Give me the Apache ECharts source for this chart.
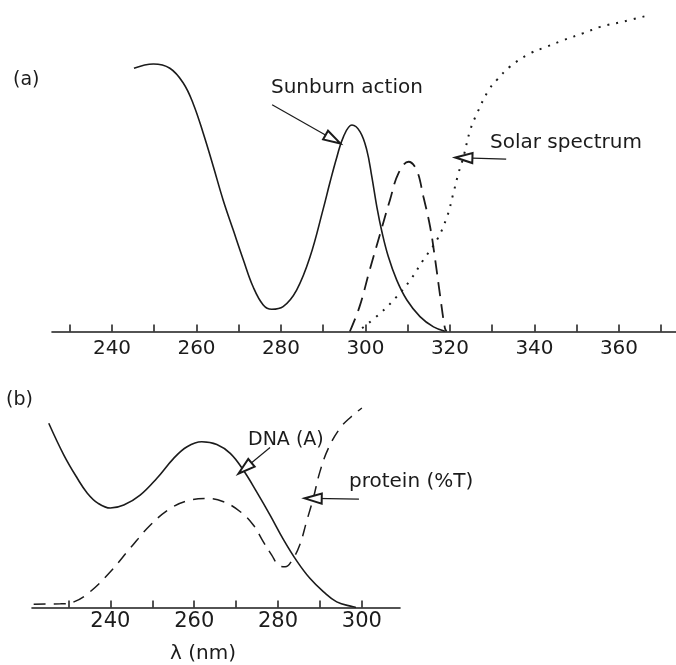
<!DOCTYPE html>
<html><head><meta charset="utf-8">
<script src="https://cdn.jsdelivr.net/npm/echarts@6/dist/echarts.min.js"></script>
<style>html,body{margin:0;padding:0;background:#fff}#c{width:676px;height:665px}</style>
</head><body><div id="c"></div>
<script>
// ---- Panel (a) ----
const sunburnX = [245.2, 249.8, 253.7, 256.9, 259.2, 261.6, 264.0, 266.3, 268.7, 271.1, 273.4, 275.8, 277.8, 280.5, 283.7, 286.9, 290.0, 291.6, 293.2, 294.8, 296.8, 298.7, 300.3, 301.5, 302.7, 303.9, 305.4, 307.4, 309.8, 312.9, 316.1, 318.8];
const sunburnY = [79.4, 80.7, 79.4, 74.9, 68.8, 59.8, 49.7, 39.7, 30.6, 21.6, 13.5, 8.0, 6.7, 7.5, 12.5, 22.6, 37.0, 45.0, 52.5, 58.8, 62.3, 60.3, 54.8, 46.7, 37.5, 30.0, 22.6, 15.5, 9.5, 4.5, 1.4, 0.1];
const dnaSpecX = [296.3, 298.6, 301.0, 303.5, 305.8, 307.8, 310.2, 312.1, 313.7, 315.3, 316.5, 317.7, 318.8, 319.2];
const dnaSpecY = [0, 7.5, 18.6, 29.6, 39.7, 47.7, 51.2, 48.7, 40.7, 31.6, 21.6, 10.5, 1.0, 0];
const solarX = [299.2, 303.5, 307.4, 310.6, 313.7, 316.9, 319.3, 320.8, 322.0, 323.2, 324.8, 326.4, 329.0, 331.1, 334.2, 339.0, 342.9, 346.9, 351.6, 355.6, 361.1, 367.4];
const solarY = [1.0, 5.5, 10.5, 15.5, 21.6, 27.6, 34.6, 41.7, 47.7, 52.7, 60.8, 65.8, 72.5, 75.9, 79.9, 83.9, 85.9, 87.9, 90.0, 91.9, 93.5, 95.5];
const topTicks = [230, 240, 250, 260, 270, 280, 290, 300, 310, 320, 330, 340, 350, 360, 370];
const topLabels = [240, 260, 280, 300, 320, 340, 360];
// ---- Panel (b) ----
const dnaX = [225.3, 228.9, 232.1, 234.5, 237.0, 240.0, 243.2, 247.1, 251.1, 255.1, 258.3, 261.8, 265.4, 268.6, 271.7, 274.9, 278.1, 281.3, 284.5, 287.6, 290.8, 294.0, 297.9, 298.6];
const dnaY = [55.6, 46.0, 39.0, 34.5, 31.5, 30.0, 30.9, 33.9, 39.0, 45.0, 48.5, 50.0, 49.2, 46.5, 41.5, 34.9, 27.9, 20.5, 14.0, 8.8, 4.8, 1.7, 0.2, 0];
const protX = [221.7, 228.1, 231.3, 235.2, 240.0, 244.8, 249.5, 254.3, 259.0, 263.0, 267.0, 271.0, 274.1, 276.5, 278.5, 280.1, 281.7, 283.6, 285.2, 286.8, 288.4, 290.0, 292.0, 294.8, 297.4, 300.0];
const protY = [1.0, 1.1, 1.7, 4.8, 10.8, 18.0, 24.8, 29.9, 32.4, 32.9, 31.9, 28.9, 24.9, 19.8, 15.8, 12.8, 12.3, 14.8, 18.9, 25.9, 32.9, 41.0, 48.0, 54.1, 57.5, 60.2];
const botTicks = [230, 240, 250, 260, 270, 280, 290, 300];
const botLabels = [240, 260, 280, 300];
// ---- annotation arrows: [fromX, fromY, toX, toY] in data units ----
const arrowSunburn = [277.9, 68.4, 292.3, 58.0];
const arrowSolar = [333.3, 52.0, 323.3, 52.4];
const arrowDNA = [278.1, 48.3, 272.1, 42.0];
const arrowProt = [299.3, 32.7, 288.4, 32.9];

const INK = '#1b1b1b';
const FONT = 'DejaVu Sans';
const zip = (xs, ys) => xs.map((x, i) => [x, ys[i]]);
function arrow(a) {
  return {
    silent: true, animation: false, symbol: 'none',
    label: { show: false },
    lineStyle: { color: INK, width: 1.2, type: 'solid' },
    emphasis: { disabled: true },
    data: [[
      { coord: [a[0], a[1]], symbol: 'none' },
      { coord: [a[2], a[3]], symbol: 'emptyTriangle', symbolSize: [10, 17] }
    ]]
  };
}
function xAxisCfg(gi, min, max, ticks, labels, fs, margin) {
  return {
    type: 'value', gridIndex: gi, min: min, max: max,
    axisLine: { show: true, lineStyle: { color: INK, width: 1.6 } },
    axisTick: { show: true, inside: true, length: 7, customValues: ticks, lineStyle: { color: INK, width: 1.5 } },
    axisLabel: { show: true, customValues: labels, color: INK, fontSize: fs, fontFamily: FONT, margin: margin },
    splitLine: { show: false }
  };
}
const chart = echarts.init(document.getElementById('c'));
chart.setOption({
  backgroundColor: '#ffffff',
  animation: false,
  grid: [
    { left: 52, right: 0, top: 0, bottom: 333.5 },
    { left: 32, right: 276, top: 375.5, bottom: 57.5 }
  ],
  xAxis: [
    xAxisCfg(0, 225.8, 373.5, topTicks, topLabels, 20, 7),
    xAxisCfg(1, 221.3, 309.1, botTicks, botLabels, 21, 4)
  ],
  yAxis: [
    { type: 'value', gridIndex: 0, min: 0, max: 100, show: false },
    { type: 'value', gridIndex: 1, min: 0, max: 70, show: false }
  ],
  series: [
    { name: 'Sunburn action', type: 'line', xAxisIndex: 0, yAxisIndex: 0, data: zip(sunburnX, sunburnY), smooth: 0.4, showSymbol: false,
      lineStyle: { color: INK, width: 1.6 }, markLine: arrow(arrowSunburn) },
    { name: 'DNA', type: 'line', xAxisIndex: 0, yAxisIndex: 0, data: zip(dnaSpecX, dnaSpecY), smooth: 0.4, showSymbol: false,
      lineStyle: { color: INK, width: 1.8, type: [14, 8] } },
    { name: 'Solar spectrum', type: 'line', xAxisIndex: 0, yAxisIndex: 0, data: zip(solarX, solarY), smooth: 0.4, showSymbol: false,
      lineStyle: { color: INK, width: 2, type: [2, 7] }, markLine: arrow(arrowSolar) },
    { name: 'DNA (A)', type: 'line', xAxisIndex: 1, yAxisIndex: 1, data: zip(dnaX, dnaY), smooth: 0.4, showSymbol: false,
      lineStyle: { color: INK, width: 1.6 }, markLine: arrow(arrowDNA) },
    { name: 'protein (%T)', type: 'line', xAxisIndex: 1, yAxisIndex: 1, data: zip(protX, protY), smooth: 0.4, showSymbol: false,
      lineStyle: { color: INK, width: 1.5, type: [12, 8] }, markLine: arrow(arrowProt) }
  ],
  graphic: [
    { type: 'text', x: 13, y: 80, style: { text: '(a)', font: '19px ' + FONT, fill: INK, verticalAlign: 'middle' } },
    { type: 'text', x: 271, y: 88, style: { text: 'Sunburn action', font: '20px ' + FONT, fill: INK, verticalAlign: 'middle' } },
    { type: 'text', x: 490, y: 143, style: { text: 'Solar spectrum', font: '20px ' + FONT, fill: INK, verticalAlign: 'middle' } },
    { type: 'text', x: 6, y: 400, style: { text: '(b)', font: '19px ' + FONT, fill: INK, verticalAlign: 'middle' } },
    { type: 'text', x: 248, y: 440, style: { text: 'DNA (A)', font: '19px ' + FONT, fill: INK, verticalAlign: 'middle' } },
    { type: 'text', x: 349, y: 482, style: { text: 'protein (%T)', font: '20px ' + FONT, fill: INK, verticalAlign: 'middle' } },
    { type: 'text', x: 203, y: 654, style: { text: 'λ (nm)', font: '20px ' + FONT, fill: INK, align: 'center', verticalAlign: 'middle' } }
  ]
});
</script></body></html>
